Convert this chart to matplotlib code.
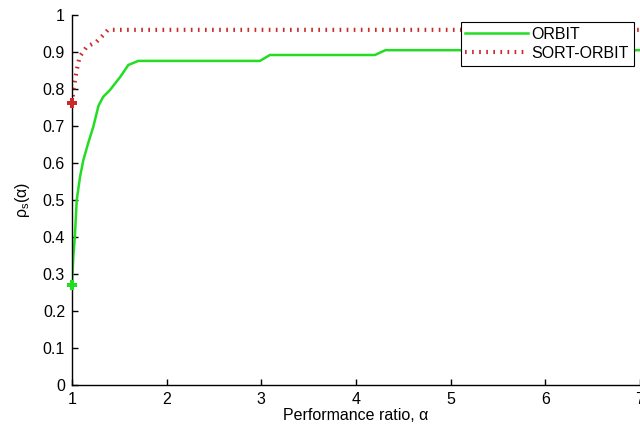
import matplotlib
matplotlib.use("Agg")
import matplotlib.pyplot as plt

plt.rcParams['font.family'] = ['Liberation Sans', 'DejaVu Sans']
plt.rcParams['mathtext.fontset'] = 'custom'
plt.rcParams['mathtext.rm'] = 'Liberation Sans'
plt.rcParams['mathtext.it'] = 'Liberation Sans'

# Data
orbit_x = [1.0, 1.014, 1.03, 1.05, 1.085, 1.12, 1.17, 1.225, 1.28, 1.33, 1.40,
           1.51, 1.595, 1.70, 2.985, 3.09, 4.20, 4.31, 7.0]
orbit_y = [0.27, 0.347, 0.40, 0.50, 0.563, 0.608, 0.653, 0.698, 0.755, 0.779, 0.797,
           0.833, 0.865, 0.876, 0.876, 0.892, 0.892, 0.905, 0.905]

sort_x = [1.0, 1.014, 1.05, 1.08, 1.155, 1.26, 1.33, 1.38, 7.0]
sort_y = [0.761, 0.797, 0.851, 0.887, 0.914, 0.928, 0.946, 0.960, 0.960]

x_ticks = [1, 2, 3, 4, 5, 6, 7]
y_ticks = [0, 0.1, 0.2, 0.3, 0.4, 0.5, 0.6, 0.7, 0.8, 0.9, 1]
y_tick_labels = ['0', '0.1', '0.2', '0.3', '0.4', '0.5', '0.6', '0.7', '0.8', '0.9', '1']

fig = plt.figure(figsize=(6.4, 4.26), dpi=100)
ax = fig.add_axes([0.1125, 0.0962, 0.8875, 0.8685])

green = '#22dd22'
red = '#cc2a2a'
fs = 11.5

ax.plot(orbit_x, orbit_y, color=green, lw=1.8, label='ORBIT')
ax.plot(sort_x, sort_y, color=red, lw=3.0, linestyle=(0, (0.4, 1.3)),
        label='SORT-ORBIT')
ax.plot(orbit_x[:1], orbit_y[:1], linestyle='none', color=green, marker='P',
        markersize=7, markeredgewidth=0, clip_on=False, zorder=5)
ax.plot(sort_x[:1], sort_y[:1], linestyle='none', color=red, marker='P',
        markersize=7, markeredgewidth=0, clip_on=False, zorder=5)

ax.set_xlim(1, 7)
ax.set_ylim(0, 1)
ax.set_xticks(x_ticks)
ax.set_yticks(y_ticks)
ax.set_yticklabels(y_tick_labels)
ax.tick_params(direction='in', length=4, width=1, labelsize=fs, pad=5)
ax.spines['top'].set_visible(False)
ax.spines['right'].set_visible(False)
for s in ['left', 'bottom']:
    ax.spines[s].set_linewidth(1.0)

ax.set_xlabel('Performance ratio, α', fontsize=fs, labelpad=1)
ax.set_ylabel(r'$\mathregular{\rho_s(\alpha)}$', fontsize=fs, labelpad=8)

leg = ax.legend(loc='upper right', bbox_to_anchor=(0.989, 0.981), borderaxespad=0,
                fancybox=False, edgecolor='black', framealpha=1, fontsize=fs,
                handlelength=3.9, handletextpad=0.25, borderpad=0.3, labelspacing=0.25)
leg.get_frame().set_linewidth(0.8)

fig.savefig('out.png', dpi=100)
